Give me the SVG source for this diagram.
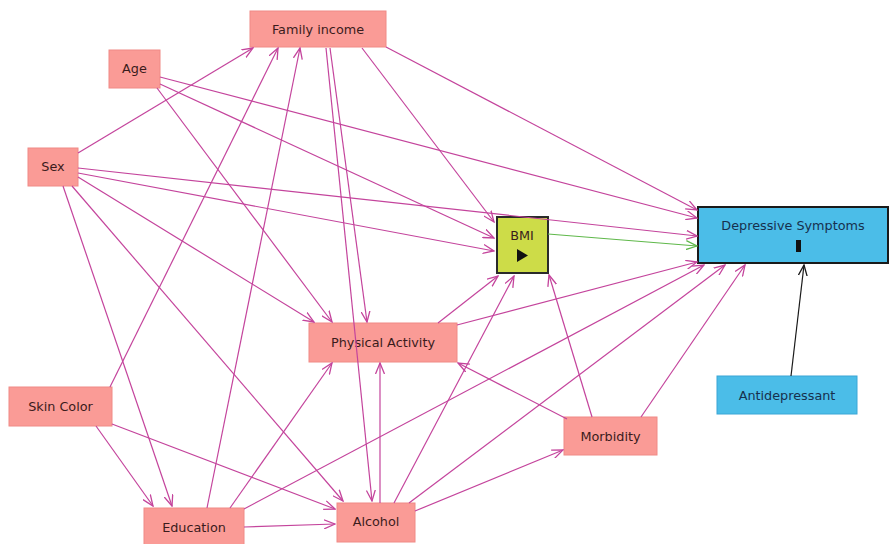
<svg xmlns="http://www.w3.org/2000/svg" width="889" height="544" viewBox="0 0 889 544">
<style>
.pk{fill:#fa9b96;stroke:#f08a86;stroke-width:1}
.bl{fill:#4bbde8}
.t{font-family:"DejaVu Sans","Liberation Sans",sans-serif;font-size:12.8px;text-anchor:middle;fill:#3a1c1c}
.tb{fill:#17304e}
.e{stroke:#c4449c;stroke-width:1.2;fill:none;marker-end:url(#ap)}
.g{stroke:#5fb84a;stroke-width:1.2;fill:none;marker-end:url(#ag)}
.k{stroke:#1a1a1a;stroke-width:1.2;fill:none;marker-end:url(#ak)}
</style>
<defs>
<marker id="ap" viewBox="0 0 12 10" refX="11" refY="5" markerWidth="12" markerHeight="10" markerUnits="userSpaceOnUse" orient="auto"><path d="M0,0.5 L11,5 L0,9.5" fill="none" stroke="#c4449c" stroke-width="1.3"/></marker>
<marker id="ag" viewBox="0 0 12 10" refX="11" refY="5" markerWidth="12" markerHeight="10" markerUnits="userSpaceOnUse" orient="auto"><path d="M0,0.5 L11,5 L0,9.5" fill="none" stroke="#5fb84a" stroke-width="1.3"/></marker>
<marker id="ak" viewBox="0 0 12 10" refX="11" refY="5" markerWidth="12" markerHeight="10" markerUnits="userSpaceOnUse" orient="auto"><path d="M0,0.5 L11,5 L0,9.5" fill="none" stroke="#1a1a1a" stroke-width="1.3"/></marker>
</defs>
<rect width="889" height="544" fill="#fff"/>

<g id="family-income"><rect class="pk" x="250" y="11" width="136" height="36"/><text class="t" x="318" y="34">Family income</text></g>
<g id="age"><rect class="pk" x="109" y="50" width="51" height="38"/><text class="t" x="134.5" y="73">Age</text></g>
<g id="sex"><rect class="pk" x="28" y="148" width="50" height="38"/><text class="t" x="53" y="171">Sex</text></g>
<g id="bmi"><rect x="497" y="217" width="51" height="56" fill="#cddc48" stroke="#2a2a2a" stroke-width="2"/><text class="t" x="522" y="240" fill="#1a1a1a">BMI</text><path d="M517,249 L528,255.5 L517,262 Z" fill="#111"/></g>
<g id="depressive-symptoms"><rect class="bl" x="698" y="207" width="190" height="56" stroke="#1a1a1a" stroke-width="2"/><text class="t tb" x="793" y="230">Depressive Symptoms</text><rect x="796" y="240" width="5" height="12" fill="#111"/></g>
<g id="antidepressant"><rect class="bl" x="717" y="376" width="140" height="38" stroke="#3aa6d6" stroke-width="1"/><text class="t tb" x="787" y="400">Antidepressant</text></g>
<g id="physical-activity"><rect class="pk" x="309" y="323" width="148" height="39"/><text class="t" x="383" y="347">Physical Activity</text></g>
<g id="skin-color"><rect class="pk" x="9" y="387" width="103" height="39"/><text class="t" x="60.5" y="411">Skin Color</text></g>
<g id="education"><rect class="pk" x="144" y="508" width="100" height="37"/><text class="t" x="194" y="532">Education</text></g>
<g id="alcohol"><rect class="pk" x="337" y="503" width="78" height="39"/><text class="t" x="376" y="526">Alcohol</text></g>
<g id="morbidity"><rect class="pk" x="564" y="417" width="93" height="38"/><text class="t" x="610.5" y="441">Morbidity</text></g>

<g id="connectors">
<line class="e" x1="362" y1="48" x2="494" y2="222"/>
<line class="e" x1="386" y1="47" x2="697" y2="210"/>
<line class="e" x1="330" y1="48" x2="367" y2="322"/>
<line class="e" x1="326" y1="48" x2="372" y2="501"/>
<line class="e" x1="160" y1="77" x2="697" y2="218"/>
<line class="e" x1="160" y1="84" x2="494" y2="238"/>
<line class="e" x1="157" y1="88" x2="332" y2="322"/>
<line class="e" x1="78" y1="153" x2="253" y2="48"/>
<line class="e" x1="78" y1="168" x2="697" y2="236"/>
<line class="e" x1="78" y1="173" x2="494" y2="251"/>
<line class="e" x1="78" y1="177" x2="314" y2="322"/>
<line class="e" x1="72" y1="186" x2="343" y2="501"/>
<line class="e" x1="63" y1="186" x2="172" y2="506"/>
<line class="e" x1="110" y1="387" x2="278" y2="48"/>
<line class="e" x1="96" y1="426" x2="153" y2="506"/>
<line class="e" x1="112" y1="424" x2="335" y2="509"/>
<line class="e" x1="207" y1="508" x2="300" y2="48"/>
<line class="e" x1="230" y1="508" x2="332" y2="363"/>
<line class="e" x1="244" y1="509" x2="704" y2="265"/>
<line class="e" x1="244" y1="527" x2="335" y2="524"/>
<line class="e" x1="380" y1="503" x2="380" y2="363"/>
<line class="e" x1="394" y1="503" x2="514" y2="276"/>
<line class="e" x1="409" y1="503" x2="725" y2="265"/>
<line class="e" x1="415" y1="511" x2="563" y2="450"/>
<line class="e" x1="438" y1="323" x2="498" y2="276"/>
<line class="e" x1="457" y1="325" x2="697" y2="262"/>
<line class="e" x1="567" y1="419" x2="458" y2="363"/>
<line class="e" x1="592" y1="417" x2="549" y2="275"/>
<line class="e" x1="641" y1="417" x2="745" y2="265"/>
<line class="g" x1="548" y1="234" x2="697" y2="246"/>
<line class="k" x1="791" y1="376" x2="804" y2="265"/>
</g>
</svg>
